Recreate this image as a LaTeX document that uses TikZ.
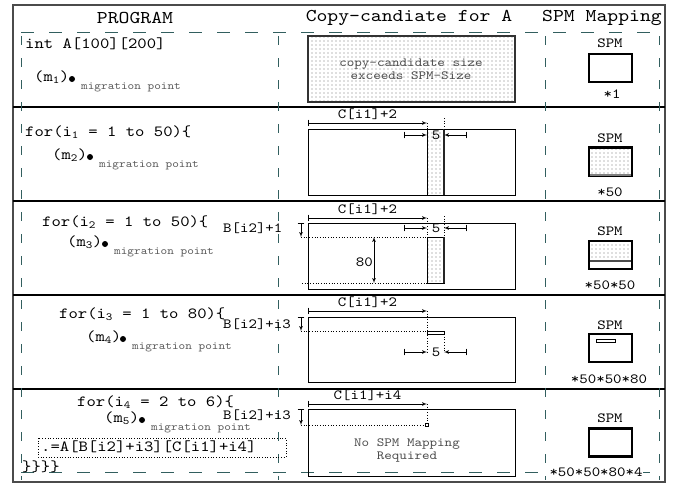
\documentclass[tikz,border=0pt]{standalone}
\usepackage{fontspec}
\usepackage{tikz}
\usetikzlibrary{arrows}
\usetikzlibrary{patterns}
\newfontfamily\courfont{lmmono10-regular.otf}[FakeStretch=1.15]
\definecolor{gridteal}{RGB}{50,95,95}
\definecolor{framegray}{RGB}{75,75,75}
\pgfdeclarepatternformonly{sparse dots}{\pgfqpoint{-1pt}{-1pt}}{\pgfqpoint{1pt}{1pt}}%
  {\pgfqpoint{4pt}{4pt}}{\pgfpathcircle{\pgfqpoint{0pt}{0pt}}{0.6pt}\pgfusepath{fill}}
\tikzset{circ/.style = {fill, circle, inner sep = 0, minimum size = 6}}
\tikzset{hdr/.style = {font = \courfont\fontsize{18}{20}\selectfont, inner sep = 0}}
\tikzset{code/.style = {font = \courfont\fontsize{15.5}{17}\selectfont, inner sep = 0}}
\tikzset{lbl/.style = {font = \courfont\fontsize{14}{16}\selectfont, inner sep = 0}}
\tikzset{mig/.style = {font = \courfont\fontsize{11}{12}\selectfont, text = black!65, inner sep = 0}}
\tikzset{note/.style = {font = \courfont\fontsize{12.5}{13}\selectfont, text = black!70,
                        align = center, inner sep = 0}}
\tikzset{frame/.style = {draw = framegray, line width = 1.5}}
\tikzset{rowline/.style = {draw = black, line width = 1.4}}
\tikzset{hgrid/.style = {draw = gridteal, line width = 0.9, dash pattern = on 13 off 15}}
\tikzset{vgrid/.style = {draw = gridteal, line width = 0.9, dash pattern = on 9 off 13}}
\tikzset{arrbox/.style = {draw = black, line width = 0.8}}
\tikzset{dotfill/.style = {pattern = sparse dots, pattern color = black!55}}
\tikzset{strip/.style = {draw = black, line width = 0.8, dotfill}}
\tikzset{stripedge/.style = {draw = black!85, line width = 1.4}}
\tikzset{guide/.style = {draw = black, line width = 0.7, dotted}}
\tikzset{dim/.style = {|-latex', line width = 0.7}}
\tikzset{spmbox/.style = {draw = black, line width = 2.4, minimum width = 42.5,
                          minimum height = 28, inner sep = 0}}

\begin{document}
\begin{tikzpicture}[x=1pt, y=-1pt]
  \useasboundingbox (0,0) rectangle (673,485);

  % frame and dashed grid
  \draw[frame] (13,5) rectangle (665,482);
  \foreach \y in {107,201,295,389}
    \draw[rowline] (13,\y) -- (665,\y);
  \foreach \y in {32,472}
    \draw[hgrid] (21,\y) -- (659,\y);
  \foreach \x in {21,278,545,659}
    \draw[vgrid] (\x,36) -- (\x,480);

  \node[hdr] (hprog) at (135,18) {PROGRAM};
  \node[hdr] (hcopy) at (409,18) {Copy-candiate for A};
  \node[hdr] (hspm) at (602,18) {SPM Mapping};

  % program column
  \node[code, anchor=west] (decl) at (25,44) {int A[100][200]};
  \node[code, anchor=west] (for1) at (25,132) {for(i\textsubscript{1} = 1 to 50)\{};
  \node[code, anchor=west] (for2) at (42,222) {for(i\textsubscript{2} = 1 to 50)\{};
  \node[code, anchor=west] (for3) at (59,314) {for(i\textsubscript{3} = 1 to 80)\{};
  \node[code, anchor=west] (for4) at (77,402) {for(i\textsubscript{4} = 2 to 6)\{};
  \foreach \n/\x/\y/\d in {1/34/77/72, 2/52/155/90, 3/67/242/105, 4/86/337/123, 5/104/418/142} {
    \node[code, anchor=west] (m\n) at (\x,\y) {(m\textsubscript{\n})};
    \node[circ] (p\n) at (\d,\y+2) {};
    \node[mig, anchor=west] (mig\n) at (\d+9,\y+10) {migration point};
  }
  \node[lbl, anchor=west] (b3) at (223,228) {B[i2]+1};
  \node[lbl, anchor=west] (b4) at (223,324) {B[i2]+i3};
  \node[lbl, anchor=west] (b5) at (223,415) {B[i2]+i3};
  \draw[guide] (38,438) rectangle (286,457);
  \node[code, anchor=west] (acc) at (41,447) {.=A[B[i2]+i3][C[i1]+i4]};
  \node[code, anchor=west] (close) at (22,467) {\}\}\}\}};

  % copy-candidate column
  \draw[arrbox, dotfill, line width = 1.5, draw = black!80] (308,36) rectangle (515,102);
  \node[note] (big) at (411,69) {copy-candidate size\\exceeds SPM-Size};
  \draw[arrbox] (308,129) rectangle (515,195);
  \draw[arrbox] (308,223) rectangle (515,289);
  \draw[arrbox] (308,317) rectangle (515,382);
  \draw[arrbox] (308,409) rectangle (515,476);
  \node[note] (none) at (407,450) {No SPM Mapping\\Required};

  \foreach \y/\t in {123/{C[i1]+2}, 218/{C[i1]+2}, 311/{C[i1]+2}, 404/{C[i1]+i4}} {
    \coordinate (cs\y) at (308,\y);
    \coordinate (ce\y) at (427,\y);
    \draw[dim] (cs\y) -- (ce\y) node[lbl, midway, above=3] (cl\y) {\t};
  }
  \foreach \t/\b in {223/237, 317/331, 409/425} {
    \coordinate (bt\t) at (301,\t);
    \coordinate (bb\t) at (301,\b);
    \coordinate (gd\t) at (427,\b);
    \draw[dim] (bt\t) -- (bb\t);
    \draw[guide] (bb\t) -- (gd\t);
  }
  \foreach \y in {135,228,352} {
    \coordinate (fl\y) at (404,\y);
    \coordinate (fa\y) at (427,\y);
    \coordinate (fb\y) at (444,\y);
    \coordinate (fr\y) at (467,\y);
    \draw[dim] (fl\y) -- (fa\y);
    \draw[dim] (fr\y) -- (fb\y);
    \node[lbl] (five\y) at (436,\y) {5};
  }

  % strips
  \draw[strip] (427,129) rectangle (444,195);
  \draw[stripedge] (444,129) -- (444,195);
  \draw[guide] (427,123) -- (427,129);
  \draw[guide] (444,118) -- (444,129);

  \draw[guide] (302,283) -- (427,283);
  \draw[strip] (427,237) rectangle (444,283);
  \draw[stripedge] (444,237) -- (444,283);
  \draw[guide] (427,218) -- (427,237);
  \draw[guide] (444,216) -- (444,237);
  \coordinate (h80t) at (374,237);
  \coordinate (h80b) at (374,283);
  \draw[latex'-latex', line width = 0.7] (h80t) -- (h80b);
  \node[lbl, anchor=east] (h80) at (373,262) {80};

  \draw[arrbox, line width = 0.9] (427,331) rectangle (444,334);
  \draw[guide] (427,311) -- (427,352);
  \draw[guide] (444,334) -- (444,352);

  \draw[guide] (427,404) -- (427,425);
  \draw[arrbox, fill = white] (425.5,423.5) rectangle (428.5,426.5);

  % SPM column
  \node[lbl] (spm1) at (610,43) {SPM};
  \node[spmbox] (box1) at (610.5,68) {};
  \node[lbl] (f1) at (612,94) {*1};

  \node[lbl] (spm2) at (610,138) {SPM};
  \node[spmbox, dotfill] (box2) at (610.5,161.5) {};
  \draw[gray, line width = 1.5] (590,175) -- (631,175);
  \node[lbl] (f2) at (610,192) {*50};

  \node[lbl] (spm3) at (610,231) {SPM};
  \fill[dotfill] (590,240) rectangle (631,261);
  \draw[gray!60!black, line width = 1.5] (590,261) -- (631,261);
  \node[spmbox] (box3) at (610.5,255) {};
  \node[lbl] (f3) at (610,285) {*50*50};

  \node[lbl] (spm4) at (610,325) {SPM};
  \node[spmbox] (box4) at (610.5,348) {};
  \draw[arrbox] (596,339) rectangle (615,342);
  \node[lbl] (f4) at (609,379) {*50*50*80};

  \node[lbl] (spm5) at (610,418) {SPM};
  \node[spmbox] (box5) at (610.5,442.5) {};
  \node[lbl, fill = white, inner sep = 1] (f5) at (596,472) {*50*50*80*4};
\end{tikzpicture}
\end{document}
